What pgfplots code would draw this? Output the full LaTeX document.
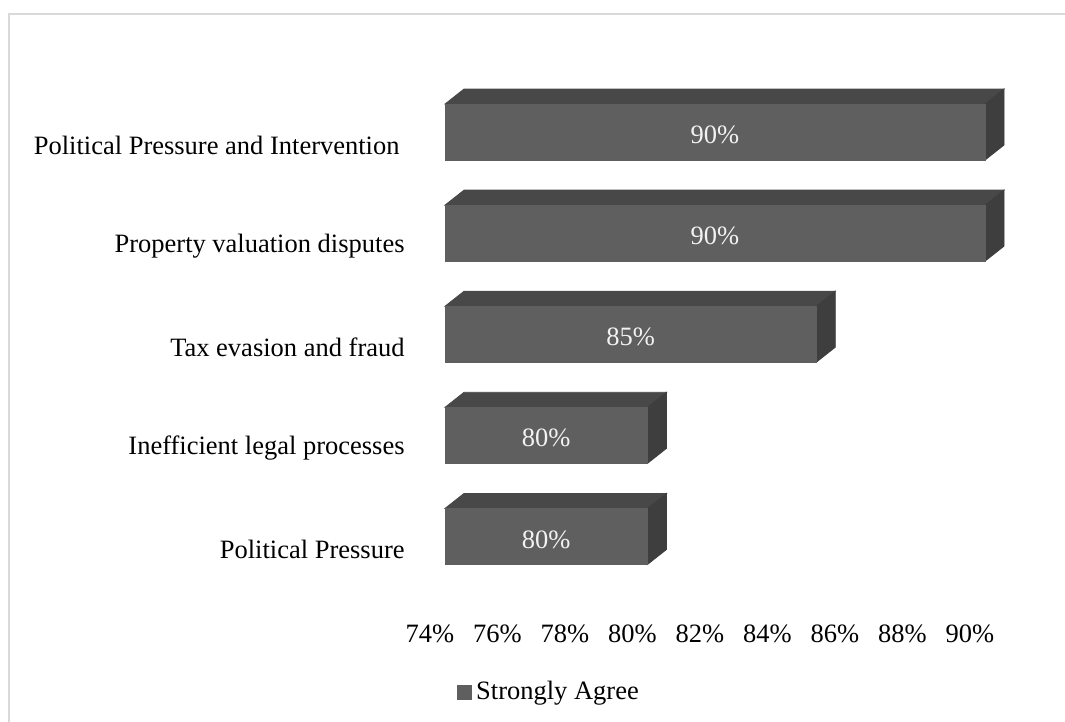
\documentclass[border=0pt]{standalone}
\usepackage{fontspec}
\setmainfont{Liberation Serif}
\usepackage{pgfplots}
\pgfplotsset{compat=1.18}
\usepackage{pgfplotstable}

\definecolor{barfront}{RGB}{95,95,95}
\definecolor{bartop}{RGB}{72,72,72}
\definecolor{barside}{RGB}{62,62,62}
\definecolor{framegray}{RGB}{217,217,217}

% share of respondents who strongly agree, per challenge (bottom to top)
\pgfplotstableread{
pos value
0 80
1 80
2 85
3 90
4 90
}\agreement

\begin{document}
\begin{tikzpicture}[x=0.5pt, y=0.5pt, font=\fontsize{13.25}{15}\selectfont]
% chart frame
\draw[framegray, line width=0.75pt] (9,-5) -- (9,708) -- (1075,708);
\begin{axis}[
  at={(222.5pt,67.5pt)}, anchor=south west,
  x=16.875pt, y=50.55pt,
  xmin=74, xmax=92, ymin=-0.5, ymax=4.5,
  clip=false,
  axis line style={draw=none},
  major tick length=0pt,
  tick label style={font=\fontsize{13.25}{15}\selectfont},
  xtick={74,76,...,90},
  xticklabel={\pgfmathprintnumber{\tick}\%},
  /pgf/number format/assume math mode=true,
  x tick label style={anchor=center, xshift=-7.5pt, yshift=-23.5pt, inner sep=0pt},
  ytick={0,...,4},
  yticklabels={Political Pressure, Inefficient legal processes, Tax evasion and fraud, Property valuation disputes, {Political Pressure and Intervention\hspace*{2.5pt}}},
  y tick label style={anchor=east, xshift=-20pt, yshift=-6.5pt, inner sep=0pt},
  legend style={at={(0.173,-0.2077)}, anchor=center, draw=none, fill=none, inner sep=0pt,
    font=\fontsize{13.25}{15}\selectfont},
  legend cell align=left,
]
% 3D bars: front face, top face and right side, all from the value column
\addplot[
  scatter, only marks, mark=*, mark size=0pt,
  visualization depends on={rawx \as \val},
  scatter/@pre marker code/.code={%
    \pgfmathsetmacro\len{(\val-74)*16.875}%
    \fill[bartop] (-\len pt,14pt) -- (0pt,14pt) -- (9.5pt,21.5pt) -- (-\len pt+9.5pt,21.5pt) -- cycle;
    \fill[barside] (0pt,-14pt) -- (9.5pt,-6.5pt) -- (9.5pt,21.5pt) -- (0pt,14pt) -- cycle;
    \fill[barfront] (-\len pt,-14pt) rectangle (0pt,14pt);
    \node[text=white!95!black, anchor=center, inner sep=0pt] at (-\len pt/2, -1.5pt) {\pgfmathprintnumber{\val}\%};
  },
  scatter/@post marker code/.code={},
  legend image code/.code={\fill[barfront] (0pt,-3.5pt) rectangle (7pt,3.5pt);},
] table[x=value, y=pos] {\agreement};
\addlegendentry{Strongly Agree}
\end{axis}
\pgfresetboundingbox
\useasboundingbox (0,0) rectangle (1065,722);
\end{tikzpicture}
\end{document}
